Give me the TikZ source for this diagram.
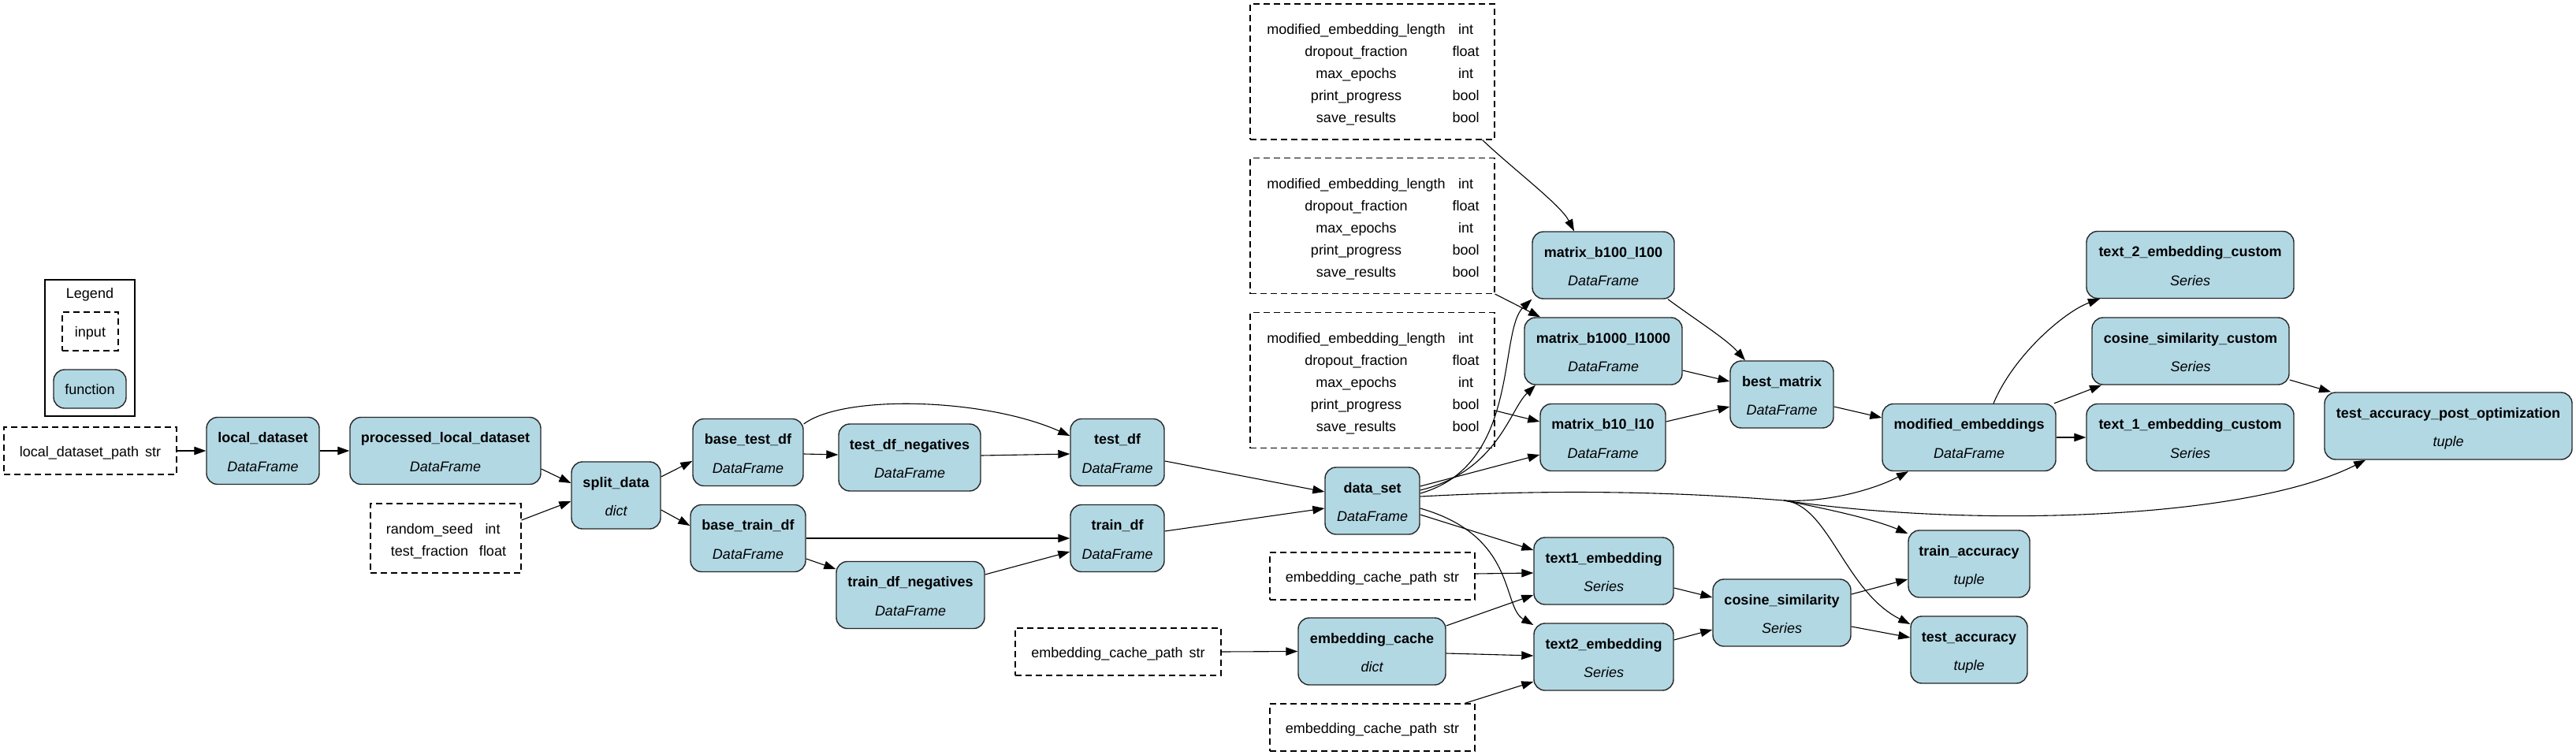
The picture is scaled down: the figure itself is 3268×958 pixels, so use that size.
\documentclass[tikz,border=0pt]{standalone}
\usepackage{fontspec}
\setmainfont{Liberation Sans}
\usetikzlibrary{arrows.meta}
\definecolor{fnfill}{HTML}{B2D8E4}
\definecolor{fnline}{HTML}{262626}
\tikzset{
  fnbox/.style={draw=fnline, line width=1.4pt, fill=fnfill, rounded corners=14pt, minimum height=85pt, inner sep=0pt},
  inbox/.style={draw=black, line width=1.1pt, dash pattern=on 8pt off 5pt, minimum height=60pt, inner sep=0pt},
  ttl/.style={anchor=base, font=\bfseries\fontsize{18}{21}\selectfont, inner sep=0pt},
  typ/.style={anchor=base, font=\itshape\fontsize{18}{21}\selectfont, inner sep=0pt},
  txt/.style={anchor=base, font=\fontsize{18}{21}\selectfont, inner sep=0pt},
  conn/.style={line width=1.1pt, -{Triangle[length=15pt,width=10.5pt]}},
  plain/.style={line width=1.1pt},
}
% function node: name, x, y, width, title, type
\newcommand\fnnode[6]{%
  \node[fnbox, minimum width=#4pt] (#1) at (#2,#3) {};
  \node[ttl] (#1-t) at ([yshift=10.3pt]#1.center) {#5};
  \node[typ] (#1-s) at ([yshift=-26.3pt]#1.center) {#6};
}
% input node: name, x, y, width, text
\newcommand\innode[5]{%
  \node[inbox, minimum width=#4pt] (#1) at (#2,#3) {};
  \node[txt] (#1-t) at ([yshift=-7.5pt]#1.center) {#5};
}
% parameter row: box, index, x offset of type column, y shift, name, type
\newcommand\prow[6]{%
  \node[txt] (#1-n#2) at ([xshift=-20.5pt,yshift=#4pt]#1.center) {#5};
  \node[txt] (#1-y#2) at ([xshift=#3pt,yshift=#4pt]#1.center) {#6};
}
\newcommand\parambox[3]{%
  \node[inbox, minimum width=310pt, minimum height=172pt] (#1) at (#2,#3) {};
  \prow{#1}{1}{118.5}{47.5}{modified\_embedding\_length}{int}
  \prow{#1}{2}{118.5}{19.5}{dropout\_fraction}{float}
  \prow{#1}{3}{118.5}{-8.5}{max\_epochs}{int}
  \prow{#1}{4}{118.5}{-36.5}{print\_progress}{bool}
  \prow{#1}{5}{118.5}{-64.5}{save\_results}{bool}
}
\begin{document}
\begin{tikzpicture}[x=1pt,y=-1pt]
\fill[white] (0,0) rectangle (3268,958);
\useasboundingbox (0,0) rectangle (3268,958);

% legend
\node[draw=black, line width=1.1pt, minimum width=114pt, minimum height=173pt, inner sep=0pt] (legend) at (114,441.5) {};
\node[txt] (legend-t) at (114,378) {Legend};
\node[inbox, minimum width=71pt, minimum height=49pt] (lgin) at (114.5,420.5) {};
\node[txt] (lgin-t) at (114.5,427) {input};
\node[fnbox, minimum width=92pt, minimum height=49pt] (lgfn) at (114,493.5) {};
\node[txt] (lgfn-t) at (114,500.5) {function};

% input nodes
\innode{ldp}{114.5}{572}{219}{local\_dataset\_path\hspace{3pt} str}
\node[inbox, minimum width=191pt, minimum height=88pt] (rs) at (565.5,683) {};
\prow{rs}{1}{59.5}{5.5}{random\_seed}{int}
\prow{rs}{2}{59.5}{-22.5}{test\_fraction}{float}
\parambox{pa}{1741}{91}
\parambox{pb}{1741}{286.5}
\parambox{pc}{1741}{482.5}
\innode{ecpt}{1741}{731}{260}{embedding\_cache\_path\hspace{3pt} str}
\innode{ecpl}{1418.5}{827}{261}{embedding\_cache\_path\hspace{3pt} str}
\innode{ecpb}{1741}{923}{260}{embedding\_cache\_path\hspace{3pt} str}

% function nodes
\fnnode{ld}{333.5}{572}{143}{local\_dataset}{DataFrame}
\fnnode{pld}{565}{572}{242}{processed\_local\_dataset}{DataFrame}
\fnnode{split}{781.5}{628.5}{113}{split\_data}{dict}
\fnnode{btest}{949}{574}{140}{base\_test\_df}{DataFrame}
\fnnode{tneg}{1154}{580.5}{180}{test\_df\_negatives}{DataFrame}
\fnnode{tdf}{1417.5}{574}{119}{test\_df}{DataFrame}
\fnnode{btrain}{949}{683}{146}{base\_train\_df}{DataFrame}
\fnnode{trneg}{1155}{755}{188}{train\_df\_negatives}{DataFrame}
\fnnode{trdf}{1417.5}{683}{119}{train\_df}{DataFrame}
\fnnode{ds}{1741}{635.5}{120}{data\_set}{DataFrame}
\fnnode{ec}{1740.5}{826.5}{187}{embedding\_cache}{dict}
\fnnode{m100}{2034}{336.5}{180}{matrix\_b100\_l100}{DataFrame}
\fnnode{m1000}{2034}{445.5}{200}{matrix\_b1000\_l1000}{DataFrame}
\fnnode{m10}{2033.5}{555}{159}{matrix\_b10\_l10}{DataFrame}
\fnnode{best}{2260.5}{500.5}{131}{best\_matrix}{DataFrame}
\fnnode{me}{2498}{555}{220}{modified\_embeddings}{DataFrame}
\fnnode{t2c}{2778.5}{336}{263}{text\_2\_embedding\_custom}{Series}
\fnnode{csc}{2779}{445.5}{250}{cosine\_similarity\_custom}{Series}
\fnnode{t1c}{2778.5}{555}{263}{text\_1\_embedding\_custom}{Series}
\fnnode{tapo}{3106}{540.5}{314}{test\_accuracy\_post\_optimization}{tuple}
\fnnode{t1}{2034.5}{724.5}{177}{text1\_embedding}{Series}
\fnnode{t2}{2034.5}{833.5}{177}{text2\_embedding}{Series}
\fnnode{cos}{2260.5}{777.5}{175}{cosine\_similarity}{Series}
\fnnode{tra}{2498}{715.5}{154}{train\_accuracy}{tuple}
\fnnode{tea}{2498}{824.5}{148}{test\_accuracy}{tuple}

\coordinate (mrg) at (2263,635);

% connectors
\draw[conn] (ldp.east) -- (ld.west);
\draw[conn] (ld.east) -- (pld.west);
\draw[conn] (pld.east |- 0,595) -- (split.west |- 0,613);
\draw[conn] (rs.east |- 0,660) -- (split.west |- 0,636);
\draw[conn] (split.east |- 0,605) -- (btest.west |- 0,585);
\draw[conn] (split.east |- 0,647) -- (btrain.west |- 0,667);
\draw[conn] (btest.east |- 0,576) -- (tneg.west |- 0,577);
\draw[conn] (btest.east |- 0,538) .. controls (1070,500) and (1250,505) .. (tdf.west |- 0,553);
\draw[conn] (tneg.east |- 0,578) -- (tdf.west |- 0,576);
\draw[conn] (btrain.east |- 0,683) -- (trdf.west |- 0,683);
\draw[conn] (btrain.east |- 0,709) -- (trneg.west |- 0,722);
\draw[conn] (trneg.east |- 0,729) -- (trdf.west |- 0,700);
\draw[conn] (tdf.east |- 0,585) -- (ds.west |- 0,624);
\draw[conn] (trdf.east |- 0,674) -- (ds.west |- 0,645);
\draw[conn] (ecpl.east) -- (ec.west);
\draw[conn] (ec.east |- 0,794) -- (t1.west |- 0,755);
\draw[conn] (ec.east |- 0,829) -- (t2.west |- 0,832);
\draw[conn] (ecpt.east |- 0,728) -- (t1.west |- 0,727);
\draw[conn] (ecpb.north -| 1858,0) -- (t2.west |- 0,865);
\draw[conn] (t1.east |- 0,746) -- (cos.west |- 0,758);
\draw[conn] (t2.east |- 0,812) -- (cos.west |- 0,799);
\draw[conn] (cos.east |- 0,754) -- (tra.west |- 0,735);
\draw[conn] (cos.east |- 0,795) -- (tea.west |- 0,809);
\draw[conn] (ds.east |- 0,653) -- (t1.west |- 0,698);
\draw[conn] (ds.east |- 0,645) .. controls (1925,680) and (1905,770) .. (t2.west |- 0,793);
\draw[conn] (ds.east |- 0,626) .. controls (1930,590) and (1900,420) .. (m100.south west);
\draw[conn] (ds.east |- 0,622) .. controls (1900,598) and (1915,520) .. (m1000.south -| 1948,0);
\draw[conn] (ds.east |- 0,617) -- (m10.west |- 0,577);
\draw[conn] ([xshift=-16pt]pa.south east) .. controls (1920,215) and (1980,260) .. (m100.north -| 1997,0);
\draw[conn] (pb.south east) -- (m1000.north -| 1954,0);
\draw[conn] (pc.east |- 0,521) -- (m10.west |- 0,535);
\draw[conn] (m100.south -| 2116,0) .. controls (2150,405) and (2190,430) .. (best.north -| 2214,0);
\draw[conn] (m1000.east |- 0,470) -- (best.west |- 0,484);
\draw[conn] (m10.east |- 0,535) -- (best.west |- 0,516);
\draw[conn] (best.east |- 0,516) -- (me.west |- 0,530);
\draw[conn] (me.north -| 2529,0) .. controls (2555,450) and (2620,395) .. (t2c.south -| 2664,0);
\draw[conn] (me.north -| 2606,0) -- (csc.south -| 2666,0);
\draw[conn] (me.east) -- (t1c.west);
\draw[conn] (csc.east |- 0,482) -- (tapo.north -| 2957,0);
\draw[plain] (ds.east |- 0,630) .. controls (1950,622) and (2100,622) .. (mrg);
\draw[conn] (mrg) .. controls (2320,638) and (2380,620) .. (me.south -| 2421,0);
\draw[conn] (mrg) .. controls (2500,670) and (2850,660) .. (tapo.south -| 3001,0);
\draw[conn] (mrg) .. controls (2330,648) and (2380,660) .. (tra.west |- 0,677);
\draw[conn] (mrg) .. controls (2320,640) and (2340,750) .. (tea.west |- 0,792);
\end{tikzpicture}
\end{document}
